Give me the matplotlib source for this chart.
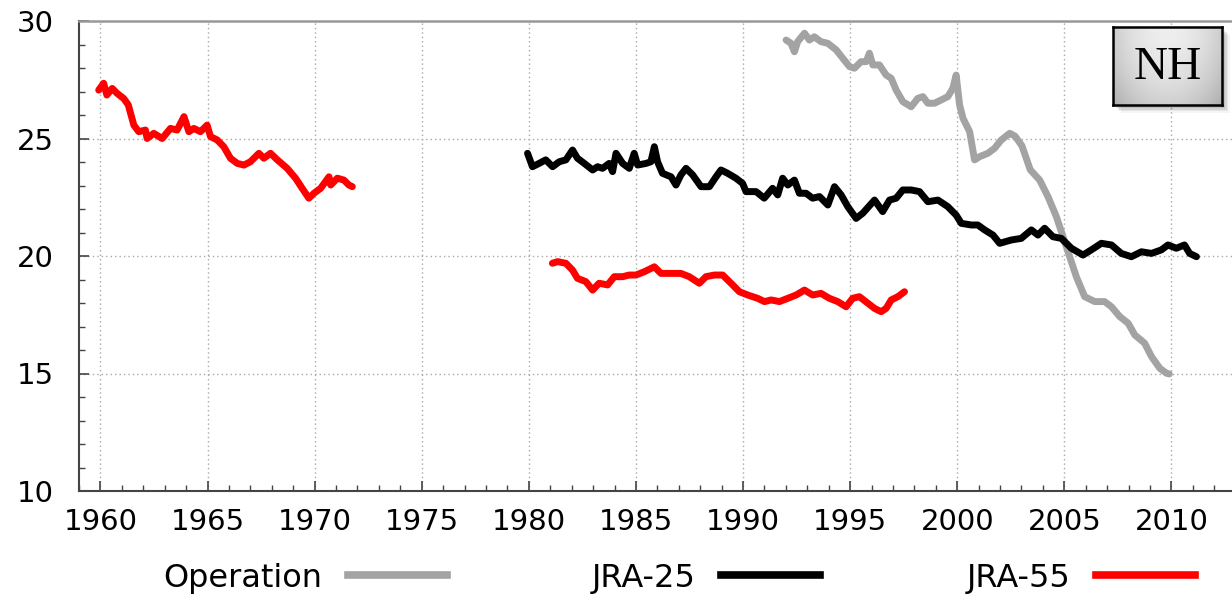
import numpy as np
import matplotlib
matplotlib.use("Agg")
import matplotlib.pyplot as plt
from matplotlib.lines import Line2D
from matplotlib.ticker import MultipleLocator
from matplotlib.patches import Rectangle

# ---------------- data ----------------
jra55_a_x = [1959.92, 1960.15, 1960.3, 1960.55, 1960.78, 1961.09, 1961.3, 1961.56, 1961.79, 1962.1,
             1962.18, 1962.49, 1962.88, 1963.27, 1963.58, 1963.9, 1964.13, 1964.36, 1964.67, 1964.98,
             1965.14, 1965.45, 1965.76, 1966.07, 1966.39, 1966.7, 1967.0, 1967.4, 1967.63, 1967.94,
             1968.26, 1968.72, 1969.11, 1969.42, 1969.73, 1969.97, 1970.28, 1970.67, 1970.75, 1971.06,
             1971.37, 1971.6, 1971.76]
jra55_a_y = [27.06, 27.35, 26.85, 27.13, 26.92, 26.7, 26.43, 25.57, 25.29, 25.36,
             25.0, 25.22, 25.0, 25.43, 25.36, 25.93, 25.29, 25.43, 25.29, 25.57,
             25.08, 24.94, 24.65, 24.16, 23.94, 23.87, 24.01, 24.37, 24.16, 24.37,
             24.09, 23.73, 23.31, 22.88, 22.46, 22.67, 22.88, 23.37, 23.02, 23.31,
             23.23, 23.02, 22.95]

jra55_b_x = [1981.1, 1981.34, 1981.73, 1982.04, 1982.27, 1982.66, 1982.98, 1983.28, 1983.68, 1983.99,
             1984.38, 1984.69, 1985.0, 1985.39, 1985.86, 1986.17, 1986.64, 1987.1, 1987.49, 1987.96,
             1988.27, 1988.66, 1989.05, 1989.44, 1989.83, 1990.22, 1990.68, 1991.0, 1991.31, 1991.7,
             1992.09, 1992.48, 1992.87, 1993.25, 1993.64, 1994.03, 1994.42, 1994.81, 1995.12, 1995.43,
             1995.83, 1996.14, 1996.45, 1996.68, 1996.92, 1997.23, 1997.54]
jra55_b_y = [19.69, 19.76, 19.69, 19.4, 19.05, 18.91, 18.55, 18.84, 18.77, 19.12,
             19.12, 19.19, 19.19, 19.33, 19.54, 19.26, 19.26, 19.26, 19.12, 18.84,
             19.12, 19.19, 19.19, 18.84, 18.48, 18.34, 18.2, 18.06, 18.13, 18.06,
             18.2, 18.34, 18.55, 18.34, 18.41, 18.2, 18.06, 17.84, 18.2, 18.27,
             17.99, 17.77, 17.63, 17.77, 18.13, 18.27, 18.48]

jra25_x = [1979.94, 1980.17, 1980.48, 1980.79, 1981.11, 1981.42, 1981.73, 1982.04, 1982.27, 1982.59,
           1982.98, 1983.21, 1983.44, 1983.75, 1983.91, 1984.07, 1984.38, 1984.69, 1984.92, 1985.08,
           1985.47, 1985.7, 1985.86, 1986.01, 1986.24, 1986.64, 1986.87, 1987.1, 1987.34, 1987.65,
           1988.04, 1988.43, 1988.74, 1988.97, 1989.28, 1989.67, 1989.98, 1990.14, 1990.61, 1990.99,
           1991.38, 1991.62, 1991.85, 1992.09, 1992.4, 1992.63, 1992.94, 1993.25, 1993.57, 1993.96,
           1994.27, 1994.58, 1994.89, 1995.28, 1995.59, 1996.14, 1996.52, 1996.84, 1997.15, 1997.46,
           1997.85, 1998.24, 1998.63, 1999.1, 1999.56, 1999.95, 2000.19, 2000.65, 2000.96, 2001.28,
           2001.67, 2001.98, 2002.52, 2002.99, 2003.46, 2003.77, 2004.08, 2004.47, 2004.86, 2005.33,
           2005.87, 2006.26, 2006.73, 2007.2, 2007.66, 2008.13, 2008.6, 2009.07, 2009.53, 2009.84,
           2010.23, 2010.61, 2010.85, 2011.17]
jra25_y = [24.37, 23.8, 23.94, 24.09, 23.8, 24.01, 24.09, 24.51, 24.16, 23.94,
           23.66, 23.8, 23.73, 23.94, 23.59, 24.37, 23.94, 23.73, 24.37, 23.87,
           23.94, 24.01, 24.65, 24.01, 23.52, 23.37, 23.02, 23.45, 23.73, 23.45,
           22.95, 22.95, 23.37, 23.66, 23.52, 23.31, 23.09, 22.74, 22.74, 22.46,
           22.88, 22.6, 23.31, 23.02, 23.23, 22.67, 22.67, 22.46, 22.53, 22.17,
           22.95, 22.6, 22.1, 21.6, 21.82, 22.38, 21.89, 22.38, 22.46, 22.81,
           22.81, 22.74, 22.31, 22.38, 22.1, 21.74, 21.39, 21.32, 21.32, 21.11,
           20.89, 20.54, 20.68, 20.75, 21.11, 20.89, 21.18, 20.82, 20.75, 20.33,
           20.04, 20.26, 20.54, 20.47, 20.11, 19.97, 20.18, 20.11, 20.26, 20.47,
           20.33, 20.47, 20.11, 19.97]

oper_x = [1992.01, 1992.24, 1992.4, 1992.55, 1992.87, 1993.1, 1993.33, 1993.64, 1993.96, 1994.35,
          1994.66, 1994.97, 1995.2, 1995.51, 1995.75, 1995.9, 1996.06, 1996.37, 1996.68, 1996.92,
          1997.15, 1997.46, 1997.85, 1998.16, 1998.4, 1998.63, 1998.94, 1999.25, 1999.56, 1999.8,
          1999.95, 2000.11, 2000.27, 2000.58, 2000.81, 2001.05, 2001.43, 2001.74, 2002.06, 2002.45,
          2002.7, 2003.02, 2003.41, 2003.85, 2004.24, 2004.63, 2004.94, 2005.25, 2005.56, 2005.95,
          2006.42, 2006.88, 2007.2, 2007.59, 2007.98, 2008.29, 2008.75, 2009.07, 2009.46, 2009.77,
          2009.9]
oper_y = [29.19, 29.05, 28.69, 29.12, 29.48, 29.19, 29.33, 29.12, 29.05, 28.77,
          28.41, 28.06, 27.99, 28.27, 28.27, 28.63, 28.13, 28.13, 27.7, 27.56,
          27.06, 26.57, 26.35, 26.71, 26.78, 26.5, 26.5, 26.64, 26.78, 27.14,
          27.7, 26.43, 25.86, 25.29, 24.09, 24.23, 24.37, 24.58, 24.94, 25.22,
          25.1, 24.69, 23.67, 23.23, 22.52, 21.67, 20.82, 19.97, 19.12, 18.27,
          18.06, 18.06, 17.84, 17.42, 17.14, 16.64, 16.29, 15.72, 15.22, 15.01,
          14.98]

x_ticks = [1960, 1965, 1970, 1975, 1980, 1985, 1990, 1995, 2000, 2005, 2010]
y_ticks = [10, 15, 20, 25, 30]
series_labels = ["Operation", "JRA-25", "JRA-55"]
panel_label = "NH"

# ---------------- styling ----------------
COL_OPER = "#a3a3a3"
COL_JRA25 = "#000000"
COL_JRA55 = "#ff0000"
LW = 5.0
FS = 21

plt.rcParams["font.family"] = ["DejaVu Sans"]

W, H = 1232, 596
fig = plt.figure(figsize=(W / 100, H / 100), dpi=100)

left_px, top_px, bot_px = 79, 21, 491
x0, x1 = 1959.0, 2013.0
px_per_year = 21.42
ax_w_px = (x1 - x0) * px_per_year
ax = fig.add_axes([left_px / W, 1 - bot_px / H, ax_w_px / W, (bot_px - top_px) / H])

kw = dict(lw=LW, solid_joinstyle="round", solid_capstyle="round")
ax.plot(oper_x, oper_y, color=COL_OPER, zorder=3, **kw)
ax.plot(jra25_x, jra25_y, color=COL_JRA25, zorder=4, **kw)
ax.plot(jra55_a_x, jra55_a_y, color=COL_JRA55, zorder=4, **kw)
ax.plot(jra55_b_x, jra55_b_y, color=COL_JRA55, zorder=4, **kw)

ax.set_xlim(x0, x1)
ax.set_ylim(10, 30)
ax.set_xticks(x_ticks)
ax.set_yticks(y_ticks)
ax.xaxis.set_minor_locator(MultipleLocator(1))
ax.yaxis.set_minor_locator(MultipleLocator(1))
ax.tick_params(which="both", direction="in", colors="#444444", labelcolor="black",
               top=False, right=False)
ax.tick_params(which="major", length=7, width=1.2, labelsize=FS)
ax.tick_params(which="minor", length=4, width=1.0)
ax.tick_params(axis="x", which="major", pad=12)
ax.tick_params(axis="y", which="major", pad=18)

ax.grid(True, which="major", color="#a8a8a8", lw=1.0, linestyle=(0, (1, 2.2)))
ax.set_axisbelow(True)

ax.spines["left"].set_color("#444444")
ax.spines["bottom"].set_color("#444444")
ax.spines["left"].set_linewidth(1.5)
ax.spines["bottom"].set_linewidth(1.5)
ax.spines["top"].set_color("#999999")
ax.spines["top"].set_linewidth(1.8)
ax.spines["right"].set_visible(False)

# ---------------- legend (three single-entry legends, key after text) ----------------
leg_colors = [COL_OPER, COL_JRA25, COL_JRA55]
leg_right_px = [447, 820, 1195]
leg_y = 1 - 578 / H
for lab, col, rpx in zip(series_labels, leg_colors, leg_right_px):
    h = Line2D([], [], color=col, lw=5.5)
    fig.legend(handles=[h], labels=[lab], loc="center right",
               bbox_to_anchor=(rpx / W, leg_y), bbox_transform=fig.transFigure,
               frameon=False, markerfirst=False, handlelength=3.1,
               handletextpad=0.8, borderpad=0, borderaxespad=0,
               fontsize=FS + 2)

# ---------------- NH box ----------------
bx0, bx1, by0, by1 = 1113, 1222, 27, 105
# soft shadow
for i, a in enumerate([0.10, 0.08, 0.06, 0.04]):
    off = 3 + i * 1.5
    fig.patches.append(Rectangle(((bx0 + off) / W, 1 - (by1 + off) / H),
                                 (bx1 - bx0) / W, (by1 - by0) / H,
                                 transform=fig.transFigure, facecolor="black",
                                 edgecolor="none", alpha=a, zorder=5))
bax = fig.add_axes([bx0 / W, 1 - by1 / H, (bx1 - bx0) / W, (by1 - by0) / H], zorder=6)
gx = np.linspace(-1, 1, 120)
gy = np.linspace(0, 1, 90)
GX, GY = np.meshgrid(gx, gy)
shade = 0.93 - 0.13 * GX ** 2 - 0.12 * GY ** 2
bax.imshow(shade, cmap="gray", vmin=0, vmax=1, aspect="auto",
           extent=(0, 1, 0, 1), origin="upper")
bax.set_xlim(0, 1)
bax.set_ylim(0, 1)
bax.set_xticks([])
bax.set_yticks([])
for s in bax.spines.values():
    s.set_color("black")
    s.set_linewidth(1.8)
bax.text(0.5, 0.48, panel_label, ha="center", va="center",
         fontsize=34, family=["Liberation Serif", "DejaVu Serif"], color="black")

fig.savefig("out.png", dpi=100)
